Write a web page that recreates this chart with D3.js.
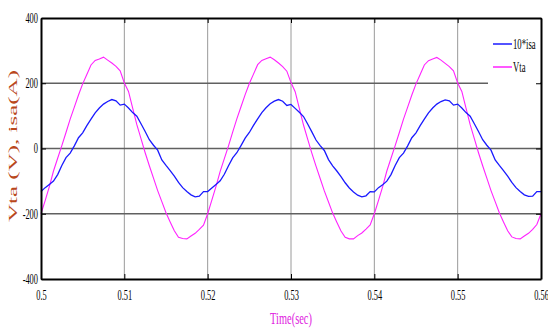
<!DOCTYPE html>
<html>
<head>
<meta charset="utf-8">
<script src="https://cdn.jsdelivr.net/npm/d3@7"></script>
<style>
  body { margin: 0; background: #fff; }
</style>
</head>
<body>
<div id="chart"></div>
<script>
// sample times start at 0.5 s, one sample every 0.5 ms
var tStart = 0.5;
var tStep = 0.0005;

// Vta (V)
var vta = [
  -200,-160,-117,-69,-30,9,49,90,127,164,198,227,256,270,274,280,271,262,252,238,
  201,175,124,73,30,-13,-53,-91,-129,-163,-197,-225,-252,-272,-276,-277,-268,-260,-248,-235,
  -200,-158,-116,-70,-31,8,50,91,128,165,199,228,257,270,275,280,272,262,251,237,
  202,174,123,72,29,-14,-54,-92,-130,-164,-198,-226,-253,-272,-277,-277,-267,-259,-247,-234,
  -200,-159,-117,-69,-30,9,49,90,127,164,198,227,256,269,274,279,271,261,251,238,
  201,175,124,73,30,-13,-53,-91,-129,-163,-197,-225,-252,-271,-276,-277,-268,-260,-248,-233,
  -200
];

// 10*isa (A)
var isa10 = [
  -132,-120,-110,-100,-80,-52,-28,-14,8,33,48,70,90,109,124,136,144,150,146,133,
  136,124,110,99,76,52,27,10,-5,-35,-52,-68,-85,-104,-120,-132,-142,-148,-146,-132,
  -132,-121,-110,-99,-79,-53,-29,-13,9,32,49,71,91,110,125,137,145,150,145,132,
  135,123,111,98,75,51,26,9,-6,-34,-53,-69,-86,-105,-121,-133,-143,-148,-145,-132,
  -133,-120,-111,-100,-80,-52,-28,-14,8,33,48,70,90,109,124,136,144,149,146,133,
  136,124,110,99,76,52,27,10,-5,-35,-52,-68,-85,-104,-120,-132,-142,-147,-146,-132,
  -132
];

var xTicks = [0.5, 0.51, 0.52, 0.53, 0.54, 0.55, 0.56];
var xLabels = ["0.5", "0.51", "0.52", "0.53", "0.54", "0.55", "0.56"];
var yTicks = [-400, -200, 0, 200, 400];
var yLabels = ["-400", "-200", "0", "200", "400"];
var gridY = [-200, 0, 200];
var gridX = [0.51, 0.52, 0.53, 0.54, 0.55];
var legendNames = ["10*isa", "Vta"];

var svgWidth = 548, svgHeight = 333;
var plotLeft = 41, plotRight = 541, plotTop = 18, plotBottom = 279;

var svg = d3.select("#chart").append("svg")
  .attr("width", svgWidth)
  .attr("height", svgHeight);

var x = d3.scaleLinear().domain([0.5, 0.56]).range([plotLeft, plotRight]);
var y = d3.scaleLinear().domain([-400, 400]).range([plotBottom, plotTop]);

var isaData = isa10.map((v, i) => ({ t: tStart + i * tStep, v: v }));
var vtaData = vta.map((v, i) => ({ t: tStart + i * tStep, v: v }));

// grid lines
svg.append("g").selectAll("line")
  .data(gridX)
  .enter().append("line")
  .attr("x1", d => x(d)).attr("x2", d => x(d))
  .attr("y1", plotTop).attr("y2", plotBottom)
  .attr("stroke", "#9a9a9a")
  .attr("stroke-width", 1);

svg.append("g").selectAll("line")
  .data(gridY)
  .enter().append("line")
  .attr("x1", plotLeft).attr("x2", plotRight)
  .attr("y1", d => y(d)).attr("y2", d => y(d))
  .attr("stroke", "#606060")
  .attr("stroke-width", 1.5);

// the two curves
var line = d3.line().x(d => x(d.t)).y(d => y(d.v));

svg.append("path")
  .datum(vtaData)
  .attr("d", line)
  .attr("fill", "none")
  .attr("stroke", "#ff22ff")
  .attr("stroke-width", 1.1);

svg.append("path")
  .datum(isaData)
  .attr("d", line)
  .attr("fill", "none")
  .attr("stroke", "#1a1aff")
  .attr("stroke-width", 1.3);

// legend box (white, covers the grid)
var legend = svg.append("g");
legend.append("rect")
  .attr("x", 488).attr("y", 20)
  .attr("width", 52).attr("height", 66)
  .attr("fill", "#fff");

var legendColors = ["#1a1aff", "#ff22ff"];
var legendY = [44, 67];
legendNames.forEach(function(name, i) {
  legend.append("line")
    .attr("x1", 493).attr("x2", 512)
    .attr("y1", legendY[i]).attr("y2", legendY[i])
    .attr("stroke", legendColors[i])
    .attr("stroke-width", 1.5);
  legend.append("text")
    .attr("transform", `translate(513, ${legendY[i] + 5}) scale(0.62,1)`)
    .attr("font-family", "Liberation Serif")
    .attr("font-size", 14)
    .attr("fill", "#000")
    .text(name);
});

// axes, MATLAB style with inward ticks
var bottomAxis = d3.axisBottom(x).tickValues(xTicks).tickSize(-5).tickSizeOuter(0)
  .tickPadding(11).tickFormat((d, i) => xLabels[i]);
var leftAxis = d3.axisLeft(y).tickValues(yTicks).tickSize(-5).tickSizeOuter(0)
  .tickPadding(3).tickFormat((d, i) => yLabels[i]);
var topAxis = d3.axisTop(x).tickValues(xTicks).tickSize(-5).tickSizeOuter(0).tickFormat("");
var rightAxis = d3.axisRight(y).tickValues(yTicks).tickSize(-5).tickSizeOuter(0).tickFormat("");

var gTop = svg.append("g").attr("transform", `translate(0, ${plotTop})`).call(topAxis);
var gRight = svg.append("g").attr("transform", `translate(${plotRight}, 0)`).call(rightAxis);
var gBottom = svg.append("g").attr("transform", `translate(0, ${plotBottom})`).call(bottomAxis);
var gLeft = svg.append("g").attr("transform", `translate(${plotLeft}, 0)`).call(leftAxis);

[gTop, gRight, gBottom, gLeft].forEach(function(g) {
  g.select(".domain").attr("stroke", "#000").attr("stroke-width", 2);
  g.selectAll(".tick line").attr("stroke", "#000").attr("stroke-width", 1);
});

gBottom.selectAll("text")
  .attr("font-family", "Liberation Serif")
  .attr("font-size", 14)
  .attr("fill", "#000")
  .attr("transform", "scale(0.6,1)");

gLeft.selectAll("text")
  .attr("font-family", "Liberation Serif")
  .attr("font-size", 14)
  .attr("fill", "#000")
  .attr("x", -3 / 0.6)
  .attr("transform", "scale(0.6,1)");

// axis titles
svg.append("text")
  .attr("transform", "translate(291, 324) scale(0.65,1)")
  .attr("text-anchor", "middle")
  .attr("font-family", "Liberation Serif")
  .attr("font-size", 16)
  .attr("fill", "#e020e0")
  .text("Time(sec)");

svg.append("text")
  .attr("transform", "translate(17, 146) rotate(-90)")
  .attr("text-anchor", "middle")
  .attr("font-family", "Liberation Serif")
  .attr("font-size", 13)
  .attr("fill", "#b9481c")
  .attr("textLength", 152)
  .attr("lengthAdjust", "spacingAndGlyphs")
  .text("Vta (V), isa(A)");
</script>
</body>
</html>
